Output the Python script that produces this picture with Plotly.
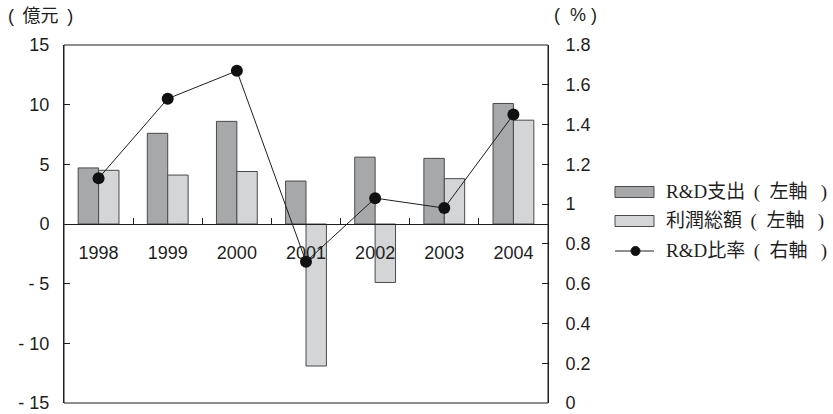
import plotly.graph_objects as go

# Data
years = ["1998", "1999", "2000", "2001", "2002", "2003", "2004"]
rd_spend = [4.7, 7.6, 8.6, 3.6, 5.6, 5.5, 10.1]          # 億元, left axis
profit_total = [4.5, 4.1, 4.4, -11.9, -4.9, 3.8, 8.7]     # 億元, left axis
rd_ratio = [1.13, 1.53, 1.67, 0.71, 1.03, 0.98, 1.45]     # %, right axis

NB, TH = "\u00a0", "\u2009"
left_tick_vals = [15, 10, 5, 0, -5, -10, -15]
left_tick_text = ["15", "10", "5", "0", "-" + NB + "5", "-" + NB + "10", "-" + NB + "15"]
right_tick_vals = [1.8, 1.6, 1.4, 1.2, 1.0, 0.8, 0.6, 0.4, 0.2, 0.0]
right_tick_text = ["1.8", "1.6", "1.4", "1.2", "1", "0.8", "0.6", "0.4", "0.2", "0"]

series_names = [
    "R&D支出" + NB + TH + "(" + NB * 2 + "左軸" + NB * 2 + TH + ")",
    "利潤総額" + NB + TH + "(" + NB * 2 + "左軸" + NB * 2 + TH + ")",
    "R&D比率" + NB + TH + "(" + NB * 2 + "右軸" + NB * 2 + TH + ")",
]
left_unit = "(" + NB + TH + "億元" + NB + TH + ")"
right_unit = "(" + NB * 2 + "%" + NB + ")"

# Styling
W, H = 833, 414
ML, MR, MT, MB = 64, 285, 45, 11
PW, PH = W - ML - MR, H - MT - MB
C_RD = "#a7a8aa"
C_PROFIT = "#d4d5d7"
C_EDGE = "#4a4a4a"
C_INK = "#1e1e1e"
SANS = "Liberation Sans, Arial, sans-serif"
LEGEND_FONT = "Liberation Serif, Noto Sans CJK JP, serif"
UNIT_FONT = "Liberation Sans, Noto Sans CJK JP, sans-serif"
TICK_FONT = dict(family=SANS, size=18, color=C_INK)


def px_x(p):
    return (p - ML) / PW


def px_y(p):
    return (H - MB - p) / PH


fig = go.Figure()
fig.add_trace(go.Bar(x=years, y=rd_spend, name=series_names[0],
                     marker=dict(color=C_RD, line=dict(color=C_EDGE, width=1)),
                     showlegend=False))
fig.add_trace(go.Bar(x=years, y=profit_total, name=series_names[1],
                     marker=dict(color=C_PROFIT, line=dict(color=C_EDGE, width=1)),
                     showlegend=False))
fig.add_trace(go.Scatter(x=years, y=rd_ratio, name=series_names[2], yaxis="y2",
                         mode="lines+markers",
                         line=dict(color=C_INK, width=1),
                         marker=dict(size=12, color="#111111"),
                         showlegend=False))

fig.update_layout(
    width=W, height=H,
    margin=dict(l=ML, r=MR, t=MT, b=MB, autoexpand=False),
    paper_bgcolor="white", plot_bgcolor="white",
    barmode="group", bargap=0.41, bargroupgap=0,
    font=dict(family=SANS, size=17, color=C_INK),
    xaxis=dict(type="category", anchor="free", position=0.5, automargin=False,
               showline=True, linecolor=C_INK, linewidth=1,
               ticks="inside", tickson="boundaries", ticklen=6,
               tickcolor=C_INK, showgrid=False, ticklabelstandoff=12,
               tickfont=TICK_FONT),
    yaxis=dict(range=[-15, 15], tickvals=left_tick_vals, ticktext=left_tick_text,
               automargin=False,
               showline=True, linecolor=C_INK, linewidth=1,
               ticks="inside", ticklen=6, tickcolor=C_INK,
               showgrid=False, zeroline=False, ticklabelstandoff=10,
               tickfont=TICK_FONT),
    yaxis2=dict(range=[0, 1.8], overlaying="y", side="right", anchor="x",
                automargin=False,
                tickvals=right_tick_vals, ticktext=right_tick_text,
                showline=True, linecolor=C_INK, linewidth=1,
                ticks="inside", ticklen=6, tickcolor=C_INK,
                showgrid=False, zeroline=False, ticklabelstandoff=13,
                tickfont=TICK_FONT),
)

# Plot frame
fig.add_shape(type="rect", xref="paper", yref="paper", x0=0, x1=1, y0=0, y1=1,
              line=dict(color=C_INK, width=1), fillcolor="rgba(0,0,0,0)", layer="above")

# Axis unit labels
fig.add_annotation(text=left_unit, xref="paper", yref="paper",
                   x=px_x(6), y=px_y(16), xanchor="left", yanchor="middle",
                   showarrow=False, font=dict(family=UNIT_FONT, size=18, color=C_INK))
fig.add_annotation(text=right_unit, xref="paper", yref="paper",
                   x=px_x(552), y=px_y(15), xanchor="left", yanchor="middle",
                   showarrow=False, font=dict(family=UNIT_FONT, size=18, color=C_INK))

# Legend
leg_x0, leg_x1, text_x = 615, 654, 664
leg_rows = [192, 221, 251]
for fill, yc in ((C_RD, leg_rows[0]), (C_PROFIT, leg_rows[1])):
    fig.add_shape(type="rect", xref="paper", yref="paper",
                  x0=px_x(leg_x0), x1=px_x(leg_x1), y0=px_y(yc + 5.5), y1=px_y(yc - 5.5),
                  line=dict(color=C_EDGE, width=1), fillcolor=fill)
yc = leg_rows[2]
fig.add_shape(type="line", xref="paper", yref="paper",
              x0=px_x(leg_x0), x1=px_x(leg_x1), y0=px_y(yc), y1=px_y(yc),
              line=dict(color=C_INK, width=1))
fig.add_shape(type="circle", xref="paper", yref="paper",
              x0=px_x(631), x1=px_x(640), y0=px_y(yc + 4.5), y1=px_y(yc - 4.5),
              line=dict(color="#111111", width=1), fillcolor="#111111")
for name, yc in zip(series_names, leg_rows):
    fig.add_annotation(text=name, xref="paper", yref="paper",
                       x=px_x(text_x), y=px_y(yc), xanchor="left", yanchor="middle",
                       showarrow=False, font=dict(family=LEGEND_FONT, size=19, color=C_INK))

fig.write_html("out.html")
